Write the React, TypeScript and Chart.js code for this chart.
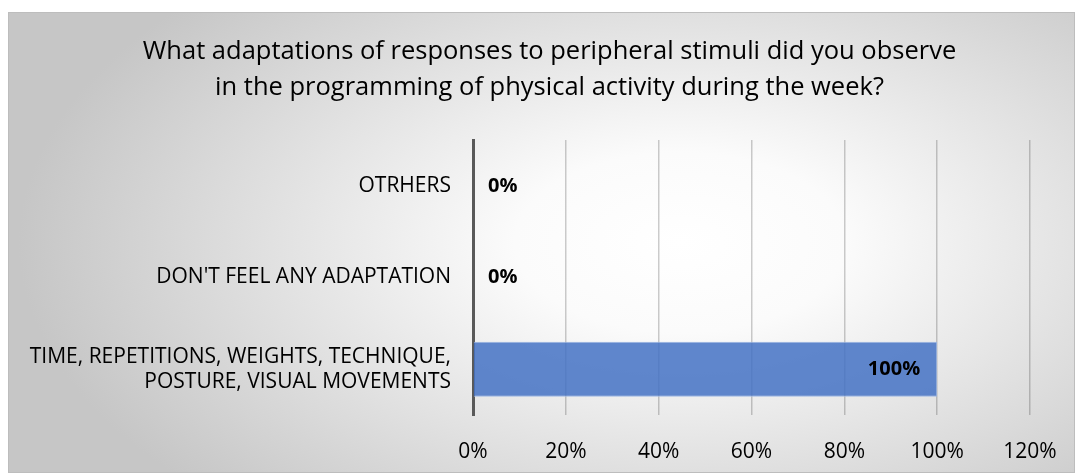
import React, { useEffect, useRef } from "react";
import { Chart, registerables } from "chart.js";

Chart.register(...registerables);

const titleLines = [
  "What adaptations of responses to peripheral stimuli did you observe",
  "in the programming of physical activity during the week?",
];
const categories: (string | string[])[] = [
  "OTRHERS",
  "DON'T FEEL ANY ADAPTATION",
  ["TIME, REPETITIONS, WEIGHTS, TECHNIQUE,", "POSTURE, VISUAL MOVEMENTS"],
];
const values = [0, 0, 100];
const axisMax = 120;
const axisStep = 20;

const FONT = '"Open Sans", sans-serif';

const bgPlugin = {
  id: "bgGradient",
  beforeDraw(chart: any) {
    const { ctx, width, height } = chart;
    ctx.save();
    const cx = width * 0.63;
    const cy = height * 0.5;
    const rx = width * 0.62;
    const ry = height * 0.78;
    ctx.translate(cx, cy);
    ctx.scale(1, ry / rx);
    const g = ctx.createRadialGradient(0, 0, 0, 0, 0, rx);
    g.addColorStop(0, "#ffffff");
    g.addColorStop(0.25, "#fbfbfb");
    g.addColorStop(1, "#c6c6c6");
    ctx.fillStyle = g;
    ctx.fillRect(-cx - 10, (-cy - 10) * (rx / ry), width + 20, (height + 20) * (rx / ry));
    ctx.restore();
    ctx.save();
    ctx.strokeStyle = "#bdbdbd";
    ctx.lineWidth = 1;
    ctx.strokeRect(0.5, 0.5, width - 1, height - 1);
    ctx.restore();
  },
};

const titlePlugin = {
  id: "centeredTitle",
  afterDraw(chart: any) {
    const { ctx, width } = chart;
    ctx.save();
    ctx.font = `25.5px ${FONT}`;
    ctx.fillStyle = "#000000";
    ctx.textAlign = "center";
    ctx.textBaseline = "middle";
    titleLines.forEach((line, i) => {
      ctx.fillText(line, width / 2 + 8, 40 + i * 36);
    });
    ctx.restore();
  },
};

const labelPlugin = {
  id: "barLabels",
  afterDatasetsDraw(chart: any) {
    const { ctx } = chart;
    const meta = chart.getDatasetMeta(0);
    ctx.save();
    ctx.font = `bold 20px ${FONT}`;
    ctx.fillStyle = "#000000";
    ctx.textBaseline = "middle";
    meta.data.forEach((el: any, i: number) => {
      const v = values[i];
      const text = `${v}%`;
      if (v === 0) {
        ctx.textAlign = "left";
        ctx.fillText(text, el.x + 15, el.y);
      } else {
        ctx.textAlign = "right";
        ctx.fillText(text, el.x - 17, el.y);
      }
    });
    ctx.restore();
  },
};

export default function App() {
  const ref = useRef<HTMLCanvasElement>(null);

  useEffect(() => {
    if (!ref.current) return;
    const chart = new Chart(ref.current, {
      type: "bar",
      data: {
        labels: categories as any,
        datasets: [
          {
            data: values,
            backgroundColor: "rgba(68,114,196,0.85)",
            borderColor: "#9db6e2",
            borderWidth: 1,
            barPercentage: 0.6,
            categoryPercentage: 1,
          },
        ],
      },
      options: {
        indexAxis: "y",
        animation: false,
        responsive: false,
        maintainAspectRatio: false,
        layout: { padding: { left: 0, right: 45, top: 128, bottom: 0 } },
        plugins: {
          legend: { display: false },
          tooltip: { enabled: false },
          title: { display: false },
        },
        scales: {
          x: {
            min: 0,
            max: axisMax,
            ticks: {
              stepSize: axisStep,
              color: "#000000",
              font: { family: FONT, size: 21 },
              padding: 24,
              maxRotation: 0,
              callback: (v: any) => `${v}%`,
            },
            grid: {
              color: "rgba(0,0,0,0.2)",
              lineWidth: 1.5,
              drawTicks: false,
            },
            border: { display: false },
            afterFit: (s: any) => {
              s.height = 58;
              s.paddingLeft = 0;
              s.paddingRight = 0;
            },
          },
          y: {
            ticks: {
              color: "#000000",
              font: { family: FONT, size: 21, lineHeight: 1.2 },
              padding: 22,
            },
            grid: { display: false, drawTicks: false },
            border: { display: true, color: "#595959", width: 3 },
            afterFit: (s: any) => {
              s.width = 465;
            },
          },
        },
      },
      plugins: [bgPlugin, labelPlugin, titlePlugin],
    });
    return () => chart.destroy();
  }, []);

  return (
    <div style={{ position: "fixed", left: 8, top: 12, width: 1067, height: 461 }}>
      <canvas ref={ref} width={1067} height={461} style={{ display: "block" }} />
    </div>
  );
}
